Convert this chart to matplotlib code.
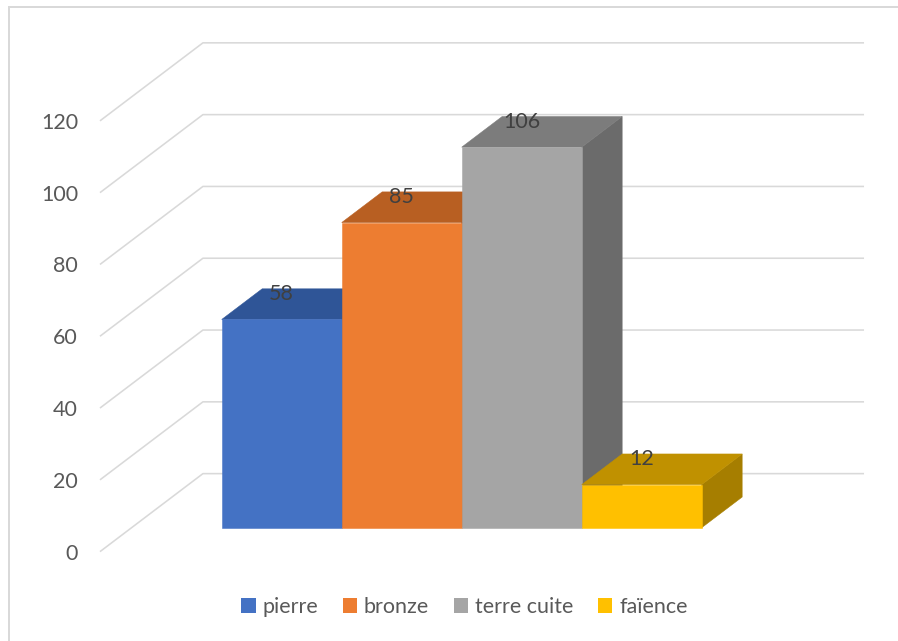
import matplotlib
matplotlib.use("Agg")
import matplotlib.pyplot as plt
from matplotlib.patches import Polygon, Patch
from matplotlib.lines import Line2D

# ---- data ----
categories = ["pierre", "bronze", "terre cuite", "faïence"]
values = [58, 85, 106, 12]
ticks = [0, 20, 40, 60, 80, 100, 120]
front_colors = ["#4472C4", "#ED7D31", "#A5A5A5", "#FFC000"]
top_colors = ["#2F5597", "#B85F22", "#7C7C7C", "#C09100"]
side_colors = ["#264A87", "#A04F18", "#6B6B6B", "#A67E00"]

W, H = 898, 641
fig = plt.figure(figsize=(W / 72, H / 72), dpi=72)
ax = fig.add_axes([0, 0, 1, 1])
ax.set_axis_off()

# pixel -> data mapping (x: category units, y: value units on bar front plane)
PX_PER_CAT = 120.0
PX_PER_VAL = 3.59
X0_PX = 281.7          # centre of first bar (px from left)
Y0_PX = 527.7          # bar base (px from top)
ax.set_xlim(-X0_PX / PX_PER_CAT, (W - X0_PX) / PX_PER_CAT)
ax.set_ylim(-(H - Y0_PX) / PX_PER_VAL, Y0_PX / PX_PER_VAL)

# 3-D projection parameters
DX, DY = 0.858, 21.73    # shift for full floor depth
D0, D1 = 0.307, 0.70     # bar front / back depth
XL, XR = -1.251, 4.258   # left wall / right end of back wall


def proj(X, v, d):
    return (X + (d - D0) * DX, v + (d - D0) * DY)


grid_c = "#D9D9D9"
text_c = "#595959"
font = ["Lato", "DejaVu Sans"]
FS = 21.5

# gridlines (left wall + back wall)
for t in ticks:
    p0 = proj(XL, t, 0)
    p1 = proj(XL, t, 1)
    p2 = proj(XR, t, 1)
    ax.plot([p0[0], p1[0], p2[0]], [p0[1], p1[1], p2[1]], color=grid_c,
            lw=1.6, zorder=1, solid_capstyle="butt")
    ax.annotate(str(t), xy=p0, xytext=(-22, -2), textcoords="offset points",
                ha="right", va="center", fontsize=FS, color=text_c,
                family=font)

# bars
for i, (v, fc, tc, sc) in enumerate(zip(values, front_colors, top_colors, side_colors)):
    l, r = i - 0.5, i + 0.5
    front = [proj(l, 0, D0), proj(r, 0, D0), proj(r, v, D0), proj(l, v, D0)]
    top = [proj(l, v, D0), proj(r, v, D0), proj(r, v, D1), proj(l, v, D1)]
    side = [proj(r, 0, D0), proj(r, 0, D1), proj(r, v, D1), proj(r, v, D0)]
    z = 2 + i * 0.1
    ax.add_patch(Polygon(side, closed=True, facecolor=sc, edgecolor=sc, lw=0.5, zorder=z))
    ax.add_patch(Polygon(top, closed=True, facecolor=tc, edgecolor=tc, lw=0.5, zorder=z + 0.01))
    ax.add_patch(Polygon(front, closed=True, facecolor=fc, edgecolor=fc, lw=0.5, zorder=z + 0.02))
    ax.annotate(str(v), xy=(i, v + (D1 - D0) * DY), xytext=(0, -5.5),
                textcoords="offset points", ha="center", va="center",
                fontsize=FS, color="#404040", family=font, zorder=10)

# legend
handles = [Patch(facecolor=c, edgecolor="none") for c in front_colors]
fig.legend(handles, categories, loc="center", bbox_to_anchor=(464.5 / W, 1 - 607 / H),
           ncol=4, frameon=False, handlelength=0.66, handleheight=0.66,
           handletextpad=0.32, columnspacing=1.15, prop={"family": font, "size": FS},
           labelcolor=text_c)

# chart border (top and left visible)
fig.add_artist(Line2D([9 / W, 9 / W], [0, 1 - 7 / H], transform=fig.transFigure,
                      color=grid_c, lw=2))
fig.add_artist(Line2D([9 / W, 1], [1 - 7 / H, 1 - 7 / H], transform=fig.transFigure,
                      color=grid_c, lw=2))

fig.savefig("out.png", dpi=72, facecolor="white")
